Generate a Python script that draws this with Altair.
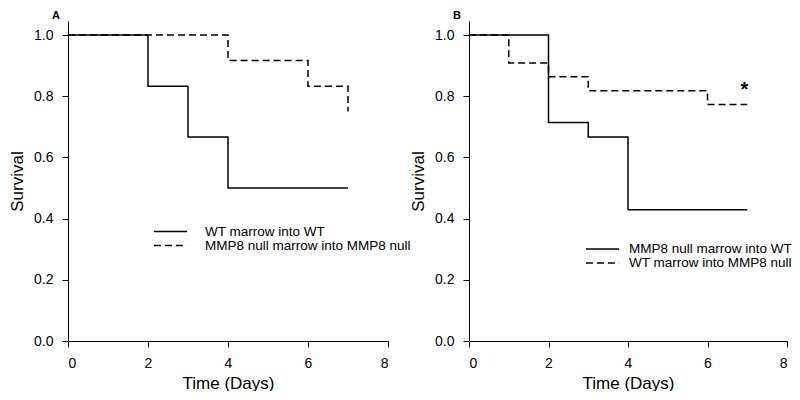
import altair as alt
import pandas as pd

FONT = "Liberation Sans"

# ---- Panel A data ----
a_wt_label = "WT marrow into WT"
a_wt_time = [0, 2, 3, 4, 7]
a_wt_surv = [1.0, 0.833, 0.667, 0.5, 0.5]

a_mmp_label = "MMP8 null marrow into MMP8 null"
a_mmp_time = [0, 4, 6, 7]
a_mmp_surv = [1.0, 0.917, 0.833, 0.75]

# ---- Panel B data ----
b_mmp_label = "MMP8 null marrow into WT"
b_mmp_time = [0, 2, 3, 4, 7]
b_mmp_surv = [1.0, 0.714, 0.667, 0.429, 0.429]

b_wt_label = "WT marrow into MMP8 null"
b_wt_time = [0, 1, 2, 3, 6, 7]
b_wt_surv = [1.0, 0.909, 0.864, 0.818, 0.773, 0.773]

star_time = [6.93]
star_surv = [0.822]
star_text = ["*"]

x_ticks = [0, 2, 4, 6, 8]
y_ticks = [0.0, 0.2, 0.4, 0.6, 0.8, 1.0]


def frame(label, times, survs):
    return pd.DataFrame({"time": times, "survival": survs, "group": label})


df_a = pd.concat([frame(a_wt_label, a_wt_time, a_wt_surv),
                  frame(a_mmp_label, a_mmp_time, a_mmp_surv)], ignore_index=True)
df_b = pd.concat([frame(b_mmp_label, b_mmp_time, b_mmp_surv),
                  frame(b_wt_label, b_wt_time, b_wt_surv)], ignore_index=True)
df_star = pd.DataFrame({"time": star_time, "survival": star_surv, "t": star_text})

H = 320


def x_enc():
    return alt.X("time:Q", scale=alt.Scale(domain=[0, 8], nice=False),
                 axis=alt.Axis(values=x_ticks, format="d", title="Time (Days)",
                               labelPadding=9, titlePadding=5))


def y_enc():
    return alt.Y("survival:Q", scale=alt.Scale(domain=[0, 1.046], nice=False),
                 axis=alt.Axis(values=y_ticks, format=".1f", title="Survival",
                               labelPadding=9, titlePadding=7))


def title(letter):
    return alt.TitleParams(letter, anchor="start", frame="group", dx=-16,
                           fontSize=11, fontWeight="bold", font=FONT,
                           color="black", offset=0)


def lines(df, labels, lx, ly, clip, row_pad, label_offset):
    return alt.Chart(df).mark_line(interpolate="step-after", color="black",
                                   strokeWidth=1.5).encode(
        x=x_enc(),
        y=y_enc(),
        strokeDash=alt.StrokeDash(
            "group:N",
            scale=alt.Scale(domain=labels, range=[[1, 0], [7, 4]]),
            sort=labels,
            legend=alt.Legend(orient="none", legendX=lx, legendY=ly, title=None,
                              clipHeight=clip, rowPadding=row_pad, symbolSize=1100,
                              symbolStrokeWidth=1.5, symbolStrokeColor="black",
                              symbolType="stroke", labelOffset=label_offset,
                              labelFontSize=13.5, labelFont=FONT,
                              labelColor="black", padding=0, labelLimit=300),
        ),
    )


panel_a = lines(df_a, [a_wt_label, a_mmp_label], 85, 205, 11, 0, 17).properties(
    width=320, height=H, title=title("A"))

lines_b = lines(df_b, [b_mmp_label, b_wt_label], 116, 221, 14, 0, 9)
star = alt.Chart(df_star).mark_text(fontSize=20, fontWeight="bold", font=FONT,
                                    color="black", baseline="middle").encode(
    x=x_enc(), y=y_enc(), text="t:N")
panel_b = alt.layer(lines_b, star).properties(width=318, height=H, title=title("B"))

chart = alt.hconcat(panel_a, panel_b, spacing=-2).resolve_scale(
    strokeDash="independent", x="independent", y="independent"
).resolve_legend(strokeDash="independent").properties(
    padding={"top": 2, "left": 0, "right": 0, "bottom": 0}
).configure_view(
    stroke=None
).configure_axis(
    grid=False, domainColor="black", tickColor="black", labelColor="black",
    titleColor="black", labelFont=FONT, titleFont=FONT, titleFontWeight="normal",
    labelFontSize=14, titleFontSize=17, tickSize=6, domainWidth=1, tickWidth=1,
)

chart.save("out.html", embed_options={"renderer": "svg", "actions": False})
